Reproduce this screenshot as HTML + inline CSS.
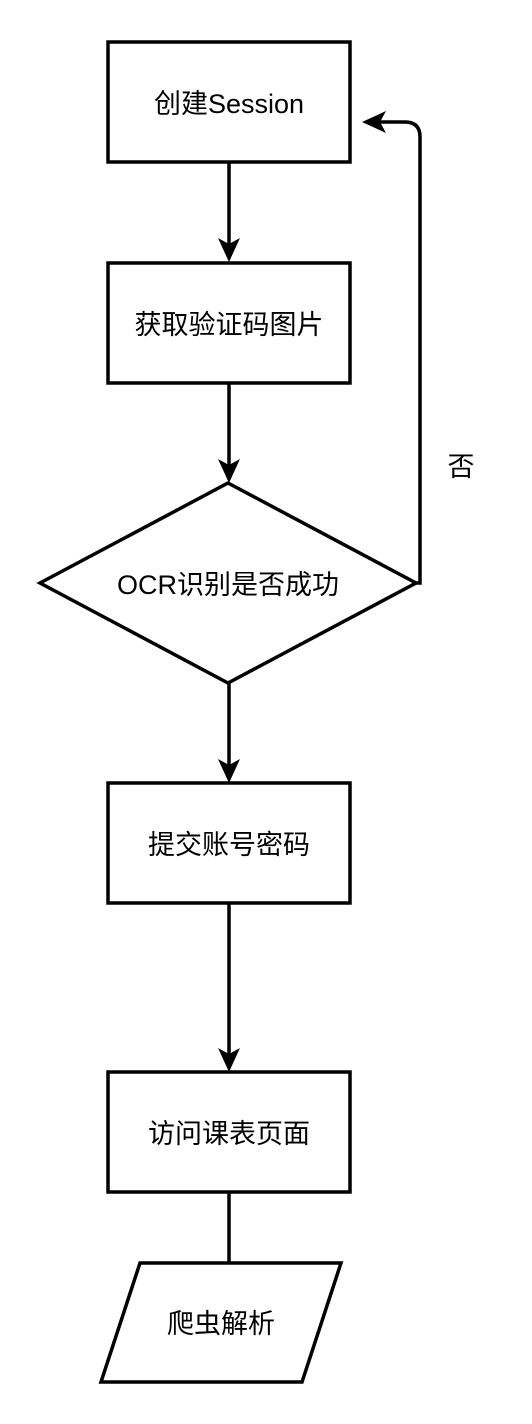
<!DOCTYPE html>
<html><head><meta charset="utf-8"><style>
html,body{margin:0;padding:0;background:#fff;}
svg{display:block}
text{font-family:"Liberation Sans","Noto Sans CJK SC",sans-serif;font-size:27px;fill:#000;}
</style></head><body>
<svg width="532" height="1424" viewBox="0 0 532 1424" xmlns="http://www.w3.org/2000/svg">
<g fill="none" stroke="#000" stroke-width="3.5">
<rect x="108" y="42" width="242" height="120"/>
<rect x="108" y="263" width="242" height="120"/>
<polygon points="228,483 416,583 228,683 40,583"/>
<rect x="108" y="783" width="242" height="120"/>
<rect x="108" y="1072" width="242" height="120"/>
<polygon points="140,1263 341,1263 302,1382 101,1382"/>
<line x1="229" y1="162" x2="229" y2="245"/>
<line x1="229" y1="383" x2="229" y2="465"/>
<line x1="229" y1="683" x2="229" y2="765"/>
<line x1="229" y1="903" x2="229" y2="1054"/>
<line x1="229" y1="1192" x2="229" y2="1263"/>
<path d="M416,583 L420,583 L420,137 Q420,122 405,122 L378,122"/>
</g>
<g fill="#000">
<polygon points="229,262 218,238 229,244 240,238"/>
<polygon points="229,483 218,459 229,465 240,459"/>
<polygon points="229,783 218,759 229,765 240,759"/>
<polygon points="229,1072 218,1048 229,1054 240,1048"/>
<polygon points="362,122 386,111 380,122 386,133"/>
</g>
<g text-anchor="middle">
<text x="229" y="113">创建Session</text>
<text x="229" y="334">获取验证码图片</text>
<text x="228" y="594">OCR识别是否成功</text>
<text x="229" y="854">提交账号密码</text>
<text x="229" y="1143">访问课表页面</text>
<text x="221" y="1333">爬虫解析</text>
<text x="461" y="476">否</text>
</g>
</svg>
</body></html>
